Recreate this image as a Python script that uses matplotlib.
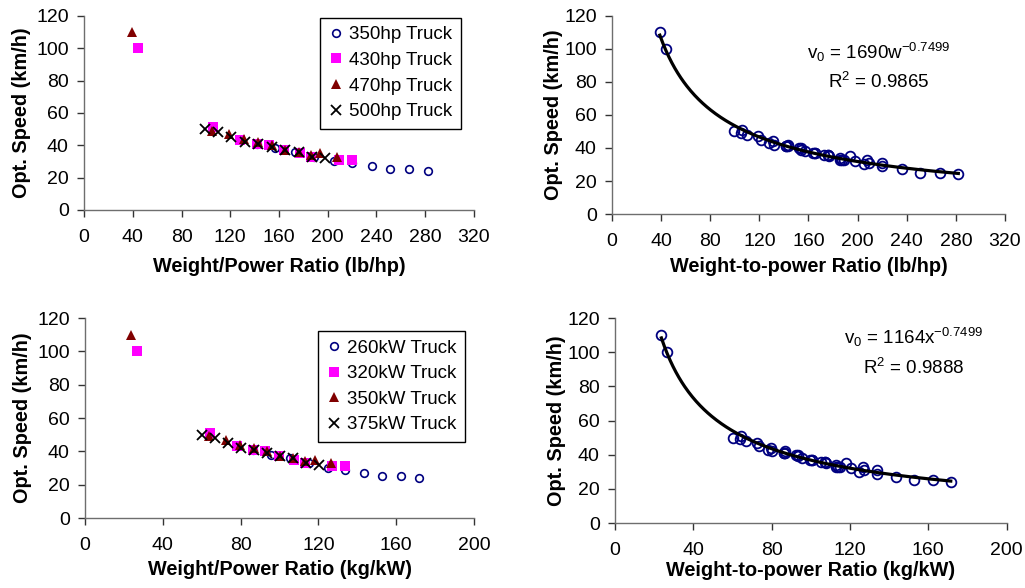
import numpy as np
import matplotlib
matplotlib.use('Agg')
import matplotlib.pyplot as plt

plt.rcParams['font.family'] = ['Liberation Sans', 'DejaVu Sans']
plt.rcParams['mathtext.fontset'] = 'custom'
plt.rcParams['mathtext.rm'] = 'Liberation Sans'
plt.rcParams['mathtext.default'] = 'regular'

FS = 13.5
FS_TICK = 14
FS_LABEL = 14.3

# weight-to-power ratio (lb/hp) and optimum speed (km/h) per truck
lbhp_350 = [142, 157, 173, 189, 205, 220, 236, 251, 267, 282]
speed_350 = [41, 38, 36, 33, 30, 29, 27, 25, 25, 24]
lbhp_430 = [44, 106, 128, 142, 152, 164, 177, 186, 209, 220]
speed_430 = [100, 51, 43, 41, 40, 37, 35, 33, 31, 31]
lbhp_470 = [39, 105, 119, 131, 143, 154, 165, 176, 186, 194, 208]
speed_470 = [110, 49, 47, 44, 42, 40, 37, 36, 34, 35, 33]
lbhp_500 = [99, 110, 121, 132, 143, 154, 165, 176, 187, 198]
speed_500 = [50, 48, 45, 42, 41, 39, 37, 36, 33, 32]

# same trucks in SI units (kg/kW)
kgkw_260 = [86.4, 95.5, 105.2, 115.0, 124.7, 133.8, 143.6, 152.7, 162.4, 171.5]
kgkw_320 = [26.8, 64.5, 77.9, 86.4, 92.5, 99.8, 107.7, 113.1, 127.1, 133.8]
kgkw_350 = [23.7, 63.9, 72.4, 79.7, 87.0, 93.7, 100.4, 107.1, 113.1, 118.0, 126.5]
kgkw_375 = [60.2, 66.9, 73.6, 80.3, 87.0, 93.7, 100.4, 107.1, 113.8, 120.4]

labels_hp = ['350hp Truck', '430hp Truck', '470hp Truck', '500hp Truck']
labels_kw = ['260kW Truck', '320kW Truck', '350kW Truck', '375kW Truck']

# power-law fits v0 = a * x^b
fit_coef_lb = 1690
fit_coef_kg = 1164
fit_exp = -0.7499
r2_lb = 0.9865
r2_kg = 0.9888

speeds = [speed_350, speed_430, speed_470, speed_500]

styles = [
    dict(marker='o', ms=5.5, mfc='none', mec='#000080', mew=1.2),
    dict(marker='s', ms=7.5, mfc='#FF00FF', mec='#FF00FF', mew=0),
    dict(marker='^', ms=7.8, mfc='#800000', mec='#800000', mew=0),
    dict(marker='x', ms=7.5, mfc='none', mec='black', mew=1.3),
]


def style_axes(ax, xmax, xstep, ylabelpad):
    ax.set_xlim(0, xmax)
    ax.set_ylim(0, 120)
    ax.set_xticks(np.arange(0, xmax + 1, xstep))
    ax.set_yticks(np.arange(0, 121, 20))
    for side in ('top', 'right'):
        ax.spines[side].set_visible(False)
    for side in ('left', 'bottom'):
        ax.spines[side].set_color('#6e6e6e')
        ax.spines[side].set_linewidth(1.0)
    ax.tick_params(axis='x', direction='out', length=5, width=1, colors='#333333',
                   labelcolor='black', labelsize=FS_TICK, pad=9)
    ax.tick_params(axis='y', direction='out', length=5, width=1, colors='#333333',
                   labelcolor='black', labelsize=FS_TICK, pad=6)
    ax.set_ylabel('Opt. Speed (km/h)', fontsize=FS_LABEL, fontweight='bold',
                  labelpad=ylabelpad)


def scatter_panel(ax, xs, labels, xmax, xstep, xlabel, xlabelpad, legend_anchor):
    for x, y, lab, st in zip(xs, speeds, labels, styles):
        ax.plot(x, y, ls='none', label=lab, clip_on=False, **st)
    style_axes(ax, xmax, xstep, 4)
    ax.set_xlabel(xlabel, fontsize=FS_LABEL, fontweight='bold', labelpad=xlabelpad)
    leg = ax.legend(loc='upper right', bbox_to_anchor=legend_anchor, fontsize=FS,
                    handlelength=0.8, handletextpad=0.3, labelspacing=0.45,
                    borderpad=0.45, borderaxespad=0, fancybox=False,
                    edgecolor='black', framealpha=1)
    leg.get_frame().set_linewidth(1.0)


def fit_panel(ax, xs, coef, r2, xmax, xstep, xlabel, var, txt_xy, xlabelpad):
    allx = np.concatenate([np.asarray(x, float) for x in xs])
    ally = np.concatenate([np.asarray(y, float) for y in speeds])
    ax.plot(allx, ally, ls='none', marker='o', ms=7, mfc='none', mec='#000080',
            mew=1.3, clip_on=False)
    xx = np.linspace(allx.min(), allx.max(), 300)
    ax.plot(xx, coef * xx ** fit_exp, color='black', lw=2.3)
    style_axes(ax, xmax, xstep, 1)
    ax.set_xlabel(xlabel, fontsize=FS_LABEL, fontweight='bold', labelpad=xlabelpad)
    tx, ty, ty2 = txt_xy
    ax.text(tx, ty, r'v$_0$ = %d%s$^{%s}$' % (coef, var, fit_exp),
            fontsize=FS, ha='center', va='center')
    ax.text(tx, ty2, r'R$^2$ = %.4f' % r2, fontsize=FS, ha='center', va='center')


fig = plt.figure(figsize=(10.25, 5.88), dpi=100)

ax_tl = fig.add_axes([0.082, 0.643, 0.3804, 0.3300])
ax_tr = fig.add_axes([0.597, 0.636, 0.3835, 0.3370])
ax_bl = fig.add_axes([0.083, 0.119, 0.3794, 0.3400])
ax_br = fig.add_axes([0.600, 0.1105, 0.3820, 0.3485])

lb_x = [lbhp_350, lbhp_430, lbhp_470, lbhp_500]
kg_x = [kgkw_260, kgkw_320, kgkw_350, kgkw_375]

scatter_panel(ax_tl, lb_x, labels_hp, 320, 40, 'Weight/Power Ratio (lb/hp)', 8,
              (0.967, 0.99))
scatter_panel(ax_bl, kg_x, labels_kw, 200, 40, 'Weight/Power Ratio (kg/kW)', 4,
              (0.977, 0.935))
fit_panel(ax_tr, lb_x, fit_coef_lb, r2_lb, 320, 40, 'Weight-to-power Ratio (lb/hp)', 'w',
          (217, 98, 80), 5)
fit_panel(ax_br, kg_x, fit_coef_kg, r2_kg, 200, 40, 'Weight-to-power Ratio (kg/kW)', 'x',
          (152.6, 108.9, 90.7), 1)

fig.savefig('out.png', dpi=100)
